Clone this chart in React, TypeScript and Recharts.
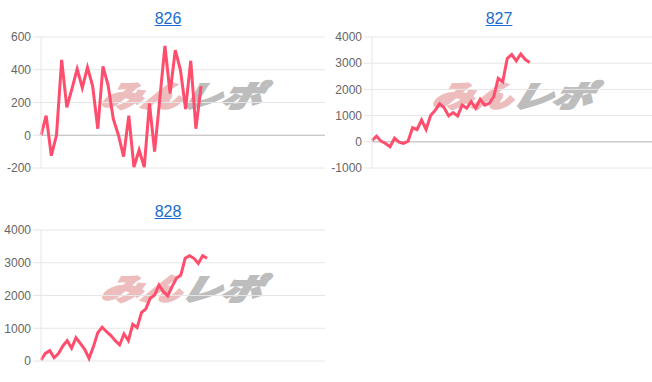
import React from 'react';
import { LineChart, Line, XAxis, YAxis, CartesianGrid, ReferenceLine } from 'recharts';

// ---- data ----
const titles = ['826', '827', '828'];

const values826 = [0, 120, -125, 0, 460, 170, 285, 405, 290, 415, 300, 40, 420, 305, 100, 0, -130, 120, -195, -90, -195, 195, -100, 220, 545, 255, 520, 400, 160, 455, 40, 300];
const values827 = [50, 215, 25, -65, -190, 140, -15, -65, 25, 535, 470, 830, 470, 1000, 1200, 1450, 1300, 990, 1115, 990, 1400, 1280, 1530, 1280, 1620, 1400, 1470, 1720, 2420, 2290, 3180, 3330, 3090, 3350, 3140, 3030];
const values828 = [30, 230, 315, 100, 230, 460, 620, 390, 710, 540, 355, 80, 440, 865, 1030, 895, 775, 620, 490, 825, 620, 1120, 1020, 1475, 1590, 1915, 2015, 2320, 2120, 1985, 2270, 2525, 2625, 3135, 3215, 3135, 2980, 3215, 3135];

// number of x-axis slots (days) on each chart
const slots826 = 56;
const slots827 = 64;
const slots828 = 66;

const ticks826 = [-200, 0, 200, 400, 600];
const ticks827 = [-1000, 0, 1000, 2000, 3000, 4000];
const ticks828 = [0, 1000, 2000, 3000, 4000];

const LINE_COLOR = '#ff4d6d';
const GRID = '#e6e6e6';

type PanelProps = {
  title: string;
  values: number[];
  slots: number;
  ticks: number[];
  left: number;
  top: number;
};

function Panel({ title, values, slots, ticks, left, top }: PanelProps) {
  const data = values.map((v, i) => ({ x: i, v }));
  const min = ticks[0];
  const max = ticks[ticks.length - 1];
  const zeroIsBottom = min === 0;
  const plotLeft = left + 41;
  const plotWidth = 284;
  return (
    <>
      <div
        style={{
          position: 'absolute',
          left: left + 8,
          top: top + 10,
          width: 320,
          textAlign: 'center',
          fontFamily: 'Arial, "Liberation Sans", sans-serif',
          fontSize: 16,
          lineHeight: '18px',
        }}
      >
        <a href="#" style={{ color: '#1a6dcc', textDecoration: 'underline' }}>{title}</a>
      </div>
      <div
        style={{
          position: 'absolute',
          left: plotLeft + plotWidth / 2 - 100,
          width: 200,
          top: top + 76,
          textAlign: 'center',
          fontFamily: '"Noto Sans CJK JP", sans-serif',
          fontWeight: 900,
          fontStyle: 'italic',
          fontSize: 30,
          lineHeight: '36px',
          transform: 'scaleX(1.33) skewX(-12deg)',
          whiteSpace: 'nowrap',
        }}
      >
        <span style={{ color: '#edbdbd', WebkitTextStroke: '2px #edbdbd' }}>みん</span>
        <span style={{ color: '#bdbdbd', WebkitTextStroke: '2px #bdbdbd' }}>レポ</span>
      </div>
      <div style={{ position: 'absolute', left, top: top + 27 }}>
        <LineChart width={330} height={151} data={data} margin={{ top: 10, right: 5, bottom: 10, left: 0 }}>
          <CartesianGrid vertical={false} stroke={GRID} />
          <XAxis
            type="number"
            dataKey="x"
            domain={[0, slots - 1]}
            tick={false}
            tickLine={false}
            height={0}
            axisLine={{ stroke: zeroIsBottom ? '#bdbdbd' : '#d0d0d0' }}
          />
          <YAxis
            type="number"
            domain={[min, max]}
            ticks={ticks}
            interval={0}
            width={41}
            tickSize={8}
            tickMargin={2}
            axisLine={{ stroke: GRID }}
            tickLine={{ stroke: GRID }}
            tick={{ fill: '#666', fontSize: 12, fontFamily: 'Arial, "Liberation Sans", sans-serif' }}
          />
          {!zeroIsBottom && <ReferenceLine y={0} stroke="#bdbdbd" />}
          <Line
            type="linear"
            dataKey="v"
            stroke={LINE_COLOR}
            strokeWidth={3}
            dot={false}
            activeDot={false}
            isAnimationActive={false}
          />
        </LineChart>
      </div>
    </>
  );
}

export default function App() {
  return (
    <div
      style={{
        position: 'fixed',
        left: 0,
        top: 0,
        width: 652,
        height: 382,
        overflow: 'hidden',
        background: '#fff',
      }}
    >
      <Panel title={titles[0]} values={values826} slots={slots826} ticks={ticks826} left={0} top={0} />
      <Panel title={titles[1]} values={values827} slots={slots827} ticks={ticks827} left={331} top={0} />
      <Panel title={titles[2]} values={values828} slots={slots828} ticks={ticks828} left={0} top={193} />
    </div>
  );
}
